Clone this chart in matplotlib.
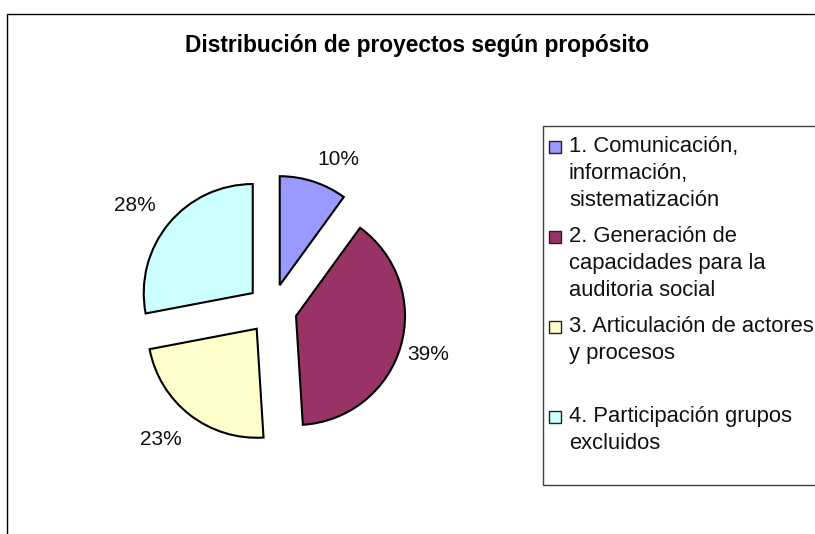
import numpy as np
import matplotlib.pyplot as plt
from matplotlib.patches import Rectangle

plt.rcParams['font.family'] = ['Liberation Sans', 'DejaVu Sans']

# datos
titulo = 'Distribución de proyectos según propósito'
categorias = ['1. Comunicación,\ninformación,\nsistematización',
              '2. Generación de\ncapacidades para la\nauditoria social',
              '3. Articulación de actores\ny procesos',
              '4. Participación grupos\nexcluidos']
porcentajes = [10, 39, 23, 28]
colores = ['#9999FF', '#993366', '#FFFFCC', '#CCFFFF']

W, H = 815, 534
fig = plt.figure(figsize=(W / 100, H / 100), dpi=100)
ax = fig.add_axes([0, 0, 1, 1])


def py(y):
    # pixel (desde arriba) -> coordenada de datos
    return H - y


R = 109
# explode va en unidades de datos (pixeles) porque el radio no es 1
wedges, _, autotexts = ax.pie(
    porcentajes, colors=colores, startangle=90, counterclock=False,
    explode=[25] * len(porcentajes), center=(272, py(309)), radius=R,
    autopct='%1.0f%%', pctdistance=1.28, frame=True,
    wedgeprops=dict(edgecolor='black', linewidth=1.5),
    textprops=dict(fontsize=15, color='#111111'))

# ajuste fino de las etiquetas como las pone Excel
dist = [1.27, 1.26, 1.34, 1.35]
giro = [-7, 0, -3, 3]
for w, t, d, g in zip(wedges, autotexts, dist, giro):
    ang = np.deg2rad((w.theta1 + w.theta2) / 2 + g)
    cx, cy = w.center
    t.set_position((cx + d * R * np.cos(ang), cy + d * R * np.sin(ang)))

ax.set_xlim(0, W)
ax.set_ylim(0, H)
ax.set_aspect('equal')
ax.axis('off')

# marco del grafico
ax.add_patch(Rectangle((7, -20), 900, py(14) + 20, fill=False,
                       edgecolor='black', lw=1))

ax.text(417, py(52), titulo, ha='center', va='baseline',
        fontsize=16.4, fontweight='bold')

# leyenda
ax.add_patch(Rectangle((543, py(485)), 400, 485 - 126, fill=False,
                       edgecolor='#404040', lw=1))
for i, (lab, col) in enumerate(zip(categorias, colores)):
    y0 = 152 + 90 * i
    ax.add_patch(Rectangle((549, py(y0 + 0.5)), 12, 12, facecolor=col,
                           edgecolor='#222222', lw=1))
    for k, linea in enumerate(lab.split('\n')):
        ax.text(569, py(y0 + 27 * k), linea, ha='left', va='baseline',
                fontsize=15.8, color='#111111')

fig.savefig('out.png', dpi=100)
